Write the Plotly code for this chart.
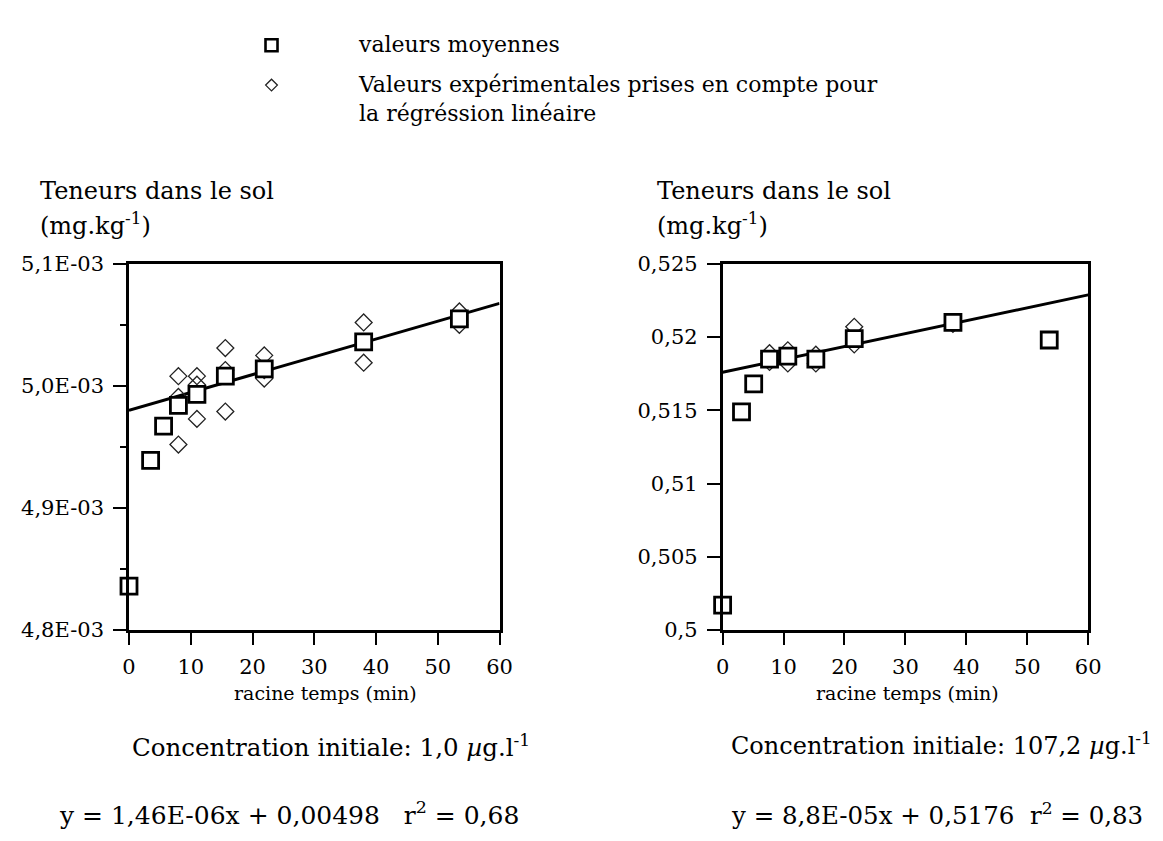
import plotly.graph_objects as go

W, H = 1163, 841

# ---------------- data ----------------
# Left panel: initial concentration 1,0 µg/l
left_mean_x = [0.0, 3.5, 5.6, 8.0, 11.0, 15.6, 21.9, 38.0, 53.5]
left_mean_y = [0.004836, 0.004939, 0.004967, 0.004984, 0.004993, 0.005008, 0.005014, 0.005036, 0.005055]
left_exp_x = [8.0, 8.0, 8.0, 11.0, 11.0, 11.0, 15.6, 15.6, 15.6, 21.9, 21.9, 21.9, 38.0, 38.0, 53.5, 53.5]
left_exp_y = [0.005008, 0.004952, 0.004991, 0.005008, 0.005001, 0.004973, 0.005031, 0.005013, 0.004979,
              0.005025, 0.005013, 0.005006, 0.005052, 0.005019, 0.005061, 0.005050]
left_slope, left_intercept = 1.46e-06, 0.00498

# Right panel: initial concentration 107,2 µg/l
right_mean_x = [0.0, 3.1, 5.1, 7.7, 10.7, 15.3, 21.6, 37.8, 53.6]
right_mean_y = [0.5017, 0.5149, 0.5168, 0.5185, 0.5187, 0.5185, 0.5199, 0.5210, 0.5198]
right_exp_x = [7.7, 7.7, 10.7, 10.7, 15.3, 15.3, 21.6, 21.6, 37.8]
right_exp_y = [0.5189, 0.5183, 0.5191, 0.5182, 0.5188, 0.5182, 0.5207, 0.5195, 0.5209]
right_slope, right_intercept = 8.8e-05, 0.5176

reg_x = [0, 60]

x_ticks = [0, 10, 20, 30, 40, 50, 60]
left_y_ticks = [0.0048, 0.0049, 0.0050, 0.0051]
left_y_labels = ["4,8E-03", "4,9E-03", "5,0E-03", "5,1E-03"]
left_y_minor = [0.00485, 0.00495, 0.00505]
right_y_ticks = [0.5, 0.505, 0.51, 0.515, 0.52, 0.525]
right_y_labels = ["0,5", "0,505", "0,51", "0,515", "0,52", "0,525"]

legend_labels = ["valeurs moyennes",
                 "Valeurs expérimentales prises en compte pour<br>la régréssion linéaire"]

# ---------------- style ----------------
FONT = "DejaVu Serif, Liberation Serif, serif"
BLACK = "#000000"

def px_x(px):
    return px / W

def px_y(py):
    return 1 - py / H

fig = go.Figure()

def add_panel(mx, my, ex, ey, slope, intercept, xa, ya):
    reg_y = [slope * v + intercept for v in reg_x]
    fig.add_trace(go.Scatter(x=reg_x, y=reg_y, mode="lines",
                             line=dict(color=BLACK, width=3),
                             xaxis=xa, yaxis=ya, showlegend=False, cliponaxis=False))
    fig.add_trace(go.Scatter(x=ex, y=ey, mode="markers",
                             marker=dict(symbol="diamond-open", size=13, color="#222222",
                                         line=dict(width=1.3, color="#222222")),
                             xaxis=xa, yaxis=ya, showlegend=False, cliponaxis=False))
    fig.add_trace(go.Scatter(x=mx, y=my, mode="markers",
                             marker=dict(symbol="square", size=16, color="white",
                                         line=dict(width=2.8, color=BLACK)),
                             xaxis=xa, yaxis=ya, showlegend=False, cliponaxis=False))

add_panel(left_mean_x, left_mean_y, left_exp_x, left_exp_y, left_slope, left_intercept, "x", "y")
add_panel(right_mean_x, right_mean_y, right_exp_x, right_exp_y, right_slope, right_intercept, "x2", "y2")

# legend symbols on an overlay pixel axis
fig.add_trace(go.Scatter(x=[261], y=[26], mode="markers",
                         marker=dict(symbol="square-open", size=12, color=BLACK, line=dict(width=2.6)),
                         xaxis="x3", yaxis="y3", showlegend=False))
fig.add_trace(go.Scatter(x=[261], y=[67], mode="markers",
                         marker=dict(symbol="diamond-open", size=9, color="#222222", line=dict(width=1.3)),
                         xaxis="x3", yaxis="y3", showlegend=False))

tickfont = dict(family=FONT, size=21, color=BLACK)
xaxis_common = dict(range=[0, 60], tickvals=x_ticks, ticks="outside", ticklen=12, tickwidth=2.4,
                    tickcolor=BLACK, showline=True, linecolor=BLACK, linewidth=2.6, mirror=True,
                    showgrid=False, zeroline=False, tickfont=tickfont, fixedrange=True,
                    ticklabelstandoff=4)

left_dom_x = [px_x(116), px_x(493)]
right_dom_x = [px_x(720), px_x(1092)]
dom_y = [px_y(628), px_y(251)]

fig.update_layout(
    width=W, height=H, margin=dict(l=0, r=0, t=0, b=0),
    paper_bgcolor="white", plot_bgcolor="rgba(0,0,0,0)",
    showlegend=False,
    xaxis=dict(domain=left_dom_x, anchor="y", **xaxis_common),
    yaxis=dict(domain=dom_y, anchor="x", range=[0.0048, 0.0051], tickvals=left_y_ticks,
               ticktext=left_y_labels, ticks="outside", ticklen=13, tickwidth=2.4, tickcolor=BLACK,
               minor=dict(tickvals=left_y_minor, ticks="outside", ticklen=6, tickwidth=2.4, tickcolor=BLACK),
               showline=True, linecolor=BLACK, linewidth=2.6, mirror=True, showgrid=False,
               zeroline=False, tickfont=tickfont, fixedrange=True, ticklabelstandoff=5),
    xaxis2=dict(domain=right_dom_x, anchor="y2", **xaxis_common),
    yaxis2=dict(domain=dom_y, anchor="x2", range=[0.5, 0.525], tickvals=right_y_ticks,
                ticktext=right_y_labels, ticks="outside", ticklen=13, tickwidth=2.4, tickcolor=BLACK,
                showline=True, linecolor=BLACK, linewidth=2.6, mirror=True, showgrid=False,
                zeroline=False, tickfont=tickfont, fixedrange=True, ticklabelstandoff=5),
    xaxis3=dict(domain=[0, 1], anchor="y3", range=[0, W], visible=False, fixedrange=True),
    yaxis3=dict(domain=[0, 1], anchor="x3", range=[H, 0], visible=False, fixedrange=True),
)

ann = []

def text(x, y, s, size, xanchor="left", yanchor="middle"):
    ann.append(dict(x=px_x(x), y=px_y(y), xref="paper", yref="paper", text=s, showarrow=False,
                    xanchor=xanchor, yanchor=yanchor, align="left",
                    font=dict(family=FONT, size=size, color=BLACK)))

# legend texts
text(347, 25, legend_labels[0], 22)
text(347, 81, legend_labels[1], 22)

# y-axis titles
for x0 in (23, 651):
    text(x0, 176, "Teneurs dans le sol", 24)
    text(x0, 210, "(mg.kg<sup>-1</sup>)", 24)

# x-axis titles
text(316, 693, "racine temps (min)", 19, xanchor="center")
text(908, 693, "racine temps (min)", 19, xanchor="center")

# bottom texts
text(117, 747, "Concentration initiale: 1,0 <i>µ</i>g.l<sup>-1</sup>", 24.5)
text(515, 817, "y = 1,46E-06x + 0,00498\u00a0\u00a0\u00a0r<sup>2</sup> = 0,68", 25, xanchor="right")
text(726, 745, "Concentration initiale: 107,2 <i>µ</i>g.l<sup>-1</sup>", 24)
text(726, 817, "y = 8,8E-05x + 0,5176\u00a0\u00a0r<sup>2</sup> = 0,83", 24.5)

fig.update_layout(annotations=ann)

fig.write_html("out.html")
